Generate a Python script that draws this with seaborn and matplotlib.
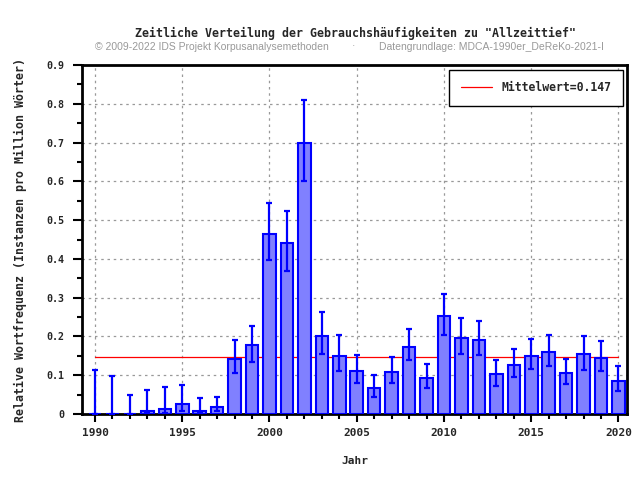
import numpy as np
import pandas as pd
import matplotlib
matplotlib.use('Agg')
import matplotlib.pyplot as plt
from matplotlib.ticker import MultipleLocator
import seaborn as sns

# data
years = list(range(1990, 2021))
freq = [0.0, 0.0, 0.0, 0.009, 0.012, 0.026, 0.009, 0.017, 0.141, 0.178,
        0.465, 0.440, 0.700, 0.201, 0.149, 0.110, 0.066, 0.108, 0.172, 0.093,
        0.253, 0.197, 0.191, 0.103, 0.127, 0.150, 0.159, 0.106, 0.154, 0.144,
        0.084]
err_low = [0.0, 0.0, 0.0, 0.002, 0.002, 0.007, 0.002, 0.007, 0.105, 0.135,
           0.397, 0.369, 0.602, 0.154, 0.110, 0.079, 0.043, 0.079, 0.139, 0.066,
           0.203, 0.154, 0.152, 0.073, 0.095, 0.116, 0.123, 0.077, 0.113, 0.110,
           0.059]
err_high = [0.113, 0.097, 0.048, 0.061, 0.069, 0.074, 0.041, 0.043, 0.190, 0.228,
            0.545, 0.524, 0.811, 0.263, 0.203, 0.153, 0.100, 0.147, 0.219, 0.128,
            0.309, 0.247, 0.240, 0.139, 0.167, 0.193, 0.203, 0.143, 0.201, 0.188,
            0.123]
mean_value = 0.147
xtick_values = [1990, 1995, 2000, 2005, 2010, 2015, 2020]
ytick_values = [0, 0.1, 0.2, 0.3, 0.4, 0.5, 0.6, 0.7, 0.8, 0.9]
ytick_labels = ['0', '0.1', '0.2', '0.3', '0.4', '0.5', '0.6', '0.7', '0.8', '0.9']

df = pd.DataFrame({'Jahr': years, 'freq': freq, 'lo': err_low, 'hi': err_high})

sns.set_style('white')
mono = 'DejaVu Sans Mono'

fig = plt.figure(figsize=(6.4, 4.8), dpi=100)
ax = fig.add_axes([0.128, 0.1375, 0.852, 0.727])

sns.barplot(data=df, x='Jahr', y='freq', native_scale=True, width=0.72,
            color='#8080ff', saturation=1, edgecolor='#0000ff', linewidth=1.5,
            errorbar=None, ax=ax, zorder=3)
ax.errorbar(df['Jahr'], df['freq'], yerr=[df['freq'] - df['lo'], df['hi'] - df['freq']],
            fmt='none', ecolor='#0000ff', elinewidth=1.6, capsize=2.3, capthick=1.6,
            zorder=4)
ax.plot([years[0], years[-1]], [mean_value, mean_value], color='red', lw=0.9,
        label='Mittelwert=%.3f' % mean_value, zorder=2)

ax.set_xlim(1989.25, 2020.5)
ax.set_ylim(0, 0.9)
ax.set_xticks(xtick_values)
ax.set_xticklabels([str(y) for y in xtick_values])
ax.xaxis.set_minor_locator(MultipleLocator(1))
ax.set_yticks(ytick_values)
ax.set_yticklabels(ytick_labels)
ax.yaxis.set_minor_locator(MultipleLocator(0.05))
ax.tick_params(axis='both', which='both', direction='out', color='black', width=1.5,
               bottom=True, left=True, top=False, right=False)
ax.tick_params(axis='x', which='major', length=6, pad=4, labelsize=8)
ax.tick_params(axis='x', which='minor', length=3.6)
ax.tick_params(axis='y', which='major', length=6.5, pad=6, labelsize=7.2)
ax.tick_params(axis='y', which='minor', length=3.6)
for lab in ax.get_xticklabels() + ax.get_yticklabels():
    lab.set_fontfamily(mono)
    lab.set_fontweight('bold')

ax.grid(True, which='major', linestyle=(0, (2, 3)), color='#999999', lw=0.9, zorder=0)
ax.set_axisbelow(True)
for s in ax.spines.values():
    s.set_linewidth(2)
    s.set_color('black')
    s.set_visible(True)

ax.set_xlabel('Jahr', fontfamily=mono, fontweight='bold', fontsize=8, labelpad=13)
ax.set_ylabel('Relative Wortfrequenz (Instanzen pro Million Wörter)', fontfamily=mono,
              fontweight='bold', fontsize=8.4, labelpad=14)

leg = ax.legend(loc='upper right', prop={'family': mono, 'weight': 'bold', 'size': 8.3},
                frameon=True, fancybox=False, framealpha=1, edgecolor='black',
                handlelength=2.7, borderpad=1.0, borderaxespad=0.4)
leg.get_frame().set_linewidth(1)

fig.text(0.555, 0.931, 'Zeitliche Verteilung der Gebrauchshäufigkeiten zu "Allzeittief"',
         ha='center', va='center', fontfamily=mono, fontweight='bold', fontsize=8.4)
fig.text(0.148, 0.903, '© 2009-2022 IDS Projekt Korpusanalysemethoden', ha='left',
         va='center', fontfamily='Liberation Sans', fontsize=7.5, color='#999999')
fig.text(0.553, 0.903, '·', ha='center', va='center', fontfamily='Liberation Sans',
         fontsize=7.5, color='#999999')
fig.text(0.592, 0.903, 'Datengrundlage: MDCA-1990er_DeReKo-2021-I', ha='left',
         va='center', fontfamily='Liberation Sans', fontsize=7.5, color='#999999')

fig.savefig('out.png', dpi=100)
